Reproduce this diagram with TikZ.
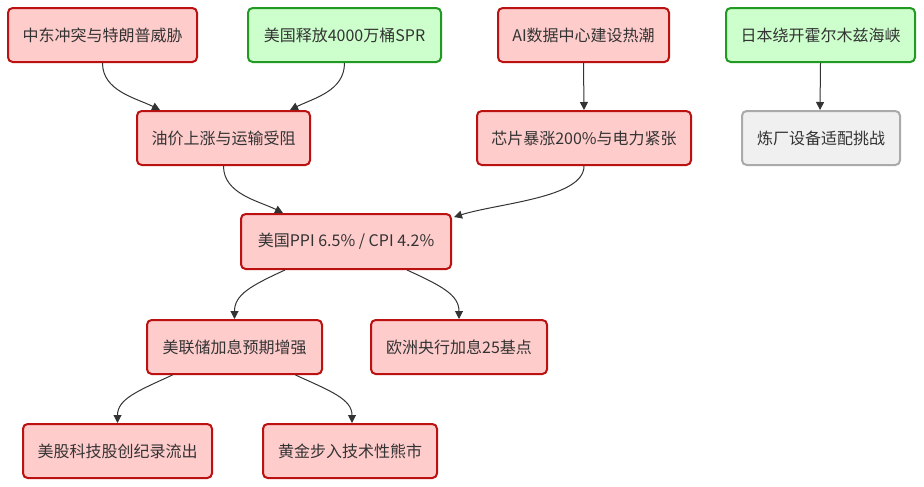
\documentclass[tikz,border=0pt]{standalone}
\usepackage{fontspec}
\setmainfont{Noto Sans CJK SC}
\usetikzlibrary{arrows.meta,calc}
\definecolor{redfill}{HTML}{FFCCCC}
\definecolor{redline}{HTML}{BB1111}
\definecolor{greenfill}{HTML}{CCFFCC}
\definecolor{greenline}{HTML}{229922}
\definecolor{grayfill}{HTML}{F0F0F0}
\definecolor{grayline}{HTML}{AAAAAA}
\definecolor{txt}{HTML}{333333}
\definecolor{edge}{HTML}{333333}
\tikzset{
  box/.style={draw, line width=1.5pt, rounded corners=3.5pt, minimum height=40.5pt, inner sep=0pt, text=txt, font=\fontsize{12pt}{14pt}\selectfont},
  redbox/.style={box, fill=redfill, draw=redline},
  greenbox/.style={box, fill=greenfill, draw=greenline},
  graybox/.style={box, fill=grayfill, draw=grayline},
  link/.style={draw=edge, line width=0.75pt, -{Triangle[length=6pt,width=6pt]}},
}
\begin{document}
\begin{tikzpicture}[x=0.75pt,y=-0.75pt]
\useasboundingbox (0,0) rectangle (924,486);
\node[redbox, minimum width=141.75pt] (n1) at (102.5,35) {中东冲突与特朗普威胁};
\node[greenbox, minimum width=144.75pt] (n2) at (344.5,35) {美国释放4000万桶SPR};
\node[redbox, minimum width=128.25pt] (n3) at (583.5,35) {AI数据中心建设热潮};
\node[greenbox, minimum width=141.75pt] (n4) at (820.5,35) {日本绕开霍尔木兹海峡};
\node[redbox, minimum width=129.75pt] (n5) at (223.5,138) {油价上涨与运输受阻};
\node[redbox, minimum width=160.5pt] (n6) at (584,138) {芯片暴涨200\%与电力紧张};
\node[graybox, minimum width=118.5pt] (n7) at (821,138) {炼厂设备适配挑战};
\node[redbox, minimum width=157.5pt, minimum height=41.25pt] (n8) at (346,241.5) {美国PPI 6.5\% / CPI 4.2\%};
\node[redbox, minimum width=131.25pt] (n9) at (234.5,347) {美联储加息预期增强};
\node[redbox, minimum width=132pt] (n10) at (459,347) {欧洲央行加息25基点};
\node[redbox, minimum width=141.75pt] (n11) at (117.5,451) {美股科技股创纪录流出};
\node[redbox, minimum width=130.5pt] (n12) at (350,451) {黄金步入技术性熊市};

\draw[link] (n1.south) .. controls +(0,28) and +(-24,-12) .. ($(n5.north)+(-63.5,0)$);
\draw[link] (n2.south) .. controls +(0,28) and +(24,-12) .. ($(n5.north)+(66.5,0)$);
\draw[link] (n3.south) -- (n6.north);
\draw[link] (n4.south) -- ($(n7.north)+(-1,0)$);
\draw[link] (n5.south) .. controls +(0,28) and +(-24,-12) .. ($(n8.north)+(-63,0)$);
\draw[link] (n6.south) .. controls +(0,32) and +(45,-14) .. ($(n8.north east)+(2,4)$);
\draw[link] ($(n8.south)+(-61,0)$) .. controls +(-35,16) and +(0,-24) .. (n9.north);
\draw[link] ($(n8.south)+(61,0)$) .. controls +(35,16) and +(0,-24) .. (n10.north);
\draw[link] ($(n9.south)+(-62,0)$) .. controls +(-35,16) and +(0,-24) .. (n11.north);
\draw[link] ($(n9.south)+(61,0)$) .. controls +(35,16) and +(0,-24) .. ($(n12.north)+(2,0)$);
\end{tikzpicture}
\end{document}
